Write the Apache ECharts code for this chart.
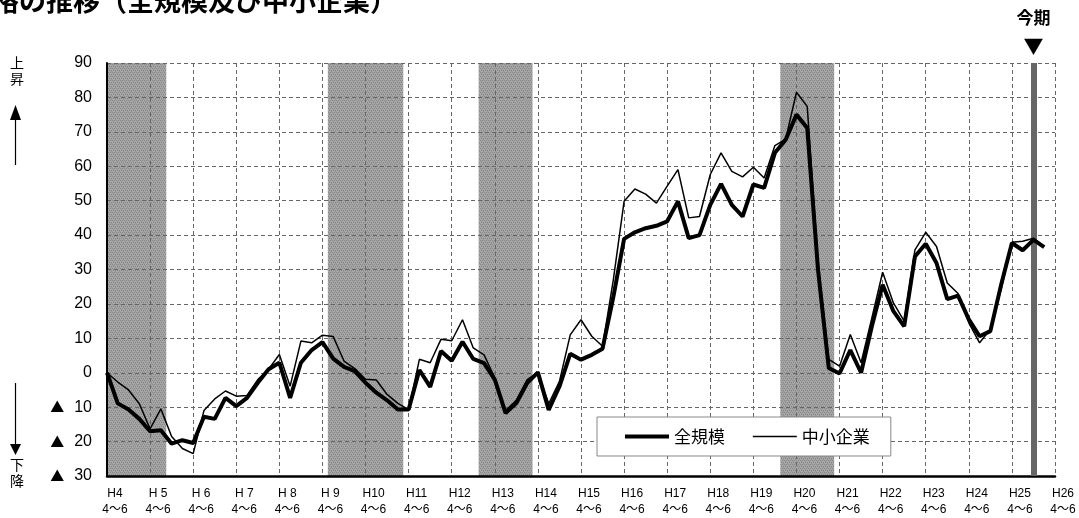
<!DOCTYPE html>
<html><head><meta charset="utf-8">
<script src="https://cdn.jsdelivr.net/npm/echarts@6/dist/echarts.min.js"></script>
<style>html,body{margin:0;padding:0;background:#fff}#c{width:1079px;height:518px}</style>
</head><body><div id="c"></div>
<script>
// ---- data ----
const yearLabels = ['H4','H 5','H 6','H 7','H 8','H 9','H10','H11','H12','H13','H14','H15','H16','H17','H18','H19','H20','H21','H22','H23','H24','H25','H26'];
const quarterLabel = '4～6';
// 全規模 (quarterly from H4 4-6)
const allSizes = [
  0, -8.9, -10.7, -13.4, -17, -16.7, -20.6, -19.6, -20.4, -12.8,
  -13.4, -7.3, -9.7, -7.3, -2.9, 1, 2.9, -7.3, 2.9, 6.6,
  8.9, 4.1, 1.7, 0.5, -2.9, -5.8, -8, -10.7, -10.7, 0.8,
  -4.1, 6.3, 3.5, 9, 4, 2.8, -2, -11.7, -8.8, -3,
  0.1, -10.8, -4, 5.5, 3.8, 5.2, 7, 22, 38.9, 40.8,
  42, 42.7, 44, 49.8, 39.1, 40, 48.8, 54.9, 48.8, 45.4,
  54.7, 53.7, 63.9, 67.7, 75, 71.1, 30, 1.4, -0.2, 6.6,
  0, 13.5, 25.6, 17.9, 13.5, 33.8, 37.5, 31.9, 21.4, 22.4,
  15.5, 10.6, 12.1, 25.6, 37.7, 35.6, 38.6, 36.5
];
// 中小企業
const smallBiz = [
  0, -2.7, -5, -9, -16.3, -10.5, -18.5, -22, -23.5, -11,
  -7.6, -5.3, -6.8, -6.6, -2, 1, 5.3, -3.9, 9.2, 8.7,
  10.9, 10.5, 3.4, 1.2, -1.9, -2.1, -6.3, -8.9, -10.7, 3.9,
  2.9, 9.7, 9.3, 15.4, 7.2, 5.2, -1.5, -11, -8, -2,
  0, -9, -2.5, 11, 15.4, 10.6, 7.7, 27, 49.8, 53.4,
  51.9, 49.3, 54.2, 59, 45, 45.4, 57.6, 63.9, 58.5, 56.9,
  59.7, 56.6, 66, 67.9, 81.5, 77.4, 32, 3.9, 1.9, 11.1,
  2.9, 15.9, 29.2, 20.3, 15, 35.7, 40.8, 36.7, 26.1, 23,
  14.5, 8.7, 12.6, 24.2, 37.9, 38.2, 39.1, 36.7
];
const seriesNames = ['全規模', '中小企業'];
// shaded periods (quarter index ranges)
const recessions = [[0, 5.5], [20.5, 27.5], [34.5, 39.5], [62.5, 67.5]];
const currentIndex = 86;
const currentLabel = '今期';
const titleText = '格の推移（全規模及び中小企業）';

// ---- pattern for shaded areas ----
const pc = document.createElement('canvas');
pc.width = 4; pc.height = 4;
const pctx = pc.getContext('2d');
pctx.fillStyle = '#a6a6a6'; pctx.fillRect(0, 0, 4, 4);
pctx.fillStyle = '#888888';
pctx.fillRect(0, 0, 1, 1); pctx.fillRect(2, 0, 1, 1);
pctx.fillRect(1, 2, 1, 1); pctx.fillRect(3, 2, 1, 1);
pctx.fillStyle = '#979797';
pctx.fillRect(1, 1, 1, 1); pctx.fillRect(3, 3, 1, 1);

const chart = echarts.init(document.getElementById('c'), null, {renderer: 'canvas'});
const FONT = "'Liberation Sans', 'Noto Sans CJK JP', sans-serif";
const JFONT = "'Noto Sans CJK JP', sans-serif";
const hideSym = {color: 'rgba(0,0,0,0)', borderColor: 'rgba(0,0,0,0)', borderWidth: 0, opacity: 0};

const option = {
  animation: false,
  backgroundColor: '#fff',
  grid: {left: 107, right: 24, top: 63, bottom: 42, containLabel: false},
  legend: {
    data: [
      {name: seriesNames[0], itemStyle: hideSym, lineStyle: {width: 4, color: '#000', opacity: 1}},
      {name: seriesNames[1], itemStyle: hideSym, lineStyle: {width: 1.6, color: '#000', opacity: 1}}
    ],
    left: 597, top: 417,
    padding: [11, 21, 11, 26],
    itemWidth: 44, itemHeight: 14, itemGap: 27,
    backgroundColor: '#fff', borderColor: '#888', borderWidth: 1,
    textStyle: {fontSize: 17, color: '#000', fontFamily: JFONT},
    z: 20
  },
  xAxis: {
    type: 'value', min: 0, max: 88, interval: 4, z: 2,
    axisLine: {show: true, onZero: false, lineStyle: {color: '#000', width: 2.5}},
    axisTick: {show: false},
    splitLine: {show: true, lineStyle: {color: '#666', width: 1, type: [4, 3]}},
    axisLabel: {
      showMinLabel: true, showMaxLabel: true,
      formatter: v => yearLabels[Math.round(v / 4)] + '\n' + quarterLabel,
      fontSize: 12, lineHeight: 16, color: '#000', fontFamily: FONT,
      margin: 10, padding: [0, 0, 0, 16]
    }
  },
  yAxis: {
    type: 'value', min: -30, max: 90, interval: 10, z: 2,
    axisLine: {show: true, lineStyle: {color: '#000', width: 2}},
    axisTick: {show: false},
    splitLine: {show: true, lineStyle: {color: '#666', width: 1, type: [4, 3]}},
    axisLabel: {
      margin: 15, color: '#000', fontSize: 16, fontFamily: FONT,
      formatter: v => v < 0 ? '{t|▲}{n|' + Math.abs(v) + '}' : '{n|' + v + '}',
      rich: {
        t: {fontSize: 14, color: '#000', fontFamily: JFONT, padding: [0, 10, 0, 0]},
        n: {fontSize: 16, color: '#000', fontFamily: FONT}
      }
    }
  },
  graphic: [
    {type: 'text', left: -8, top: -13, z: 10,
     style: {text: titleText, fontSize: 27, fontWeight: 'bold', fontFamily: 'Noto Sans CJK JP', fill: '#000'}},
    {type: 'text', x: 17, y: 63, style: {text: '上', fontSize: 14, fontFamily: 'Noto Sans CJK JP', fill: '#000', align: 'center', verticalAlign: 'middle'}},
    {type: 'text', x: 17, y: 79, style: {text: '昇', fontSize: 14, fontFamily: 'Noto Sans CJK JP', fill: '#000', align: 'center', verticalAlign: 'middle'}},
    {type: 'polygon', shape: {points: [[10, 120], [21, 120], [15.5, 105]]}, style: {fill: '#000'}},
    {type: 'line', shape: {x1: 15.5, y1: 119, x2: 15.5, y2: 165}, style: {stroke: '#000', lineWidth: 1.2}},
    {type: 'line', shape: {x1: 15.5, y1: 383, x2: 15.5, y2: 446}, style: {stroke: '#000', lineWidth: 1.2}},
    {type: 'polygon', shape: {points: [[10, 444], [21, 444], [15.5, 455]]}, style: {fill: '#000'}},
    {type: 'text', x: 17, y: 465, style: {text: '下', fontSize: 14, fontFamily: 'Noto Sans CJK JP', fill: '#000', align: 'center', verticalAlign: 'middle'}},
    {type: 'text', x: 17, y: 481, style: {text: '降', fontSize: 14, fontFamily: 'Noto Sans CJK JP', fill: '#000', align: 'center', verticalAlign: 'middle'}}
  ],
  series: [
    {
      type: 'line', data: [], z: 0, silent: true,
      markArea: {
        silent: true, z: 1,
        itemStyle: {color: {image: pc, repeat: 'repeat'}, opacity: 1},
        data: recessions.map(r => [{xAxis: r[0]}, {xAxis: r[1]}])
      },
      markLine: {
        silent: true, symbol: 'none', z: 2.5,
        lineStyle: {color: '#666', width: 6, type: 'solid'},
        label: {
          show: true, position: 'end', distance: 6,
          formatter: '{a|' + currentLabel + '}\n{b|▼}',
          rich: {
            a: {fontSize: 17, fontWeight: 'bold', color: '#000', fontFamily: JFONT, lineHeight: 34},
            b: {fontSize: 20, color: '#000', fontFamily: JFONT, lineHeight: 22}
          }
        },
        data: [{xAxis: currentIndex}]
      }
    },
    {
      name: seriesNames[1], type: 'line', z: 3, symbol: 'none', showSymbol: false,
      lineStyle: {color: '#000', width: 1.5}, itemStyle: {color: '#000'},
      data: smallBiz.map((v, i) => [i, v])
    },
    {
      name: seriesNames[0], type: 'line', z: 4, symbol: 'none', showSymbol: false,
      lineStyle: {color: '#000', width: 4}, itemStyle: {color: '#000'},
      data: allSizes.map((v, i) => [i, v])
    }
  ]
};
chart.setOption(option);
</script>
</body></html>
